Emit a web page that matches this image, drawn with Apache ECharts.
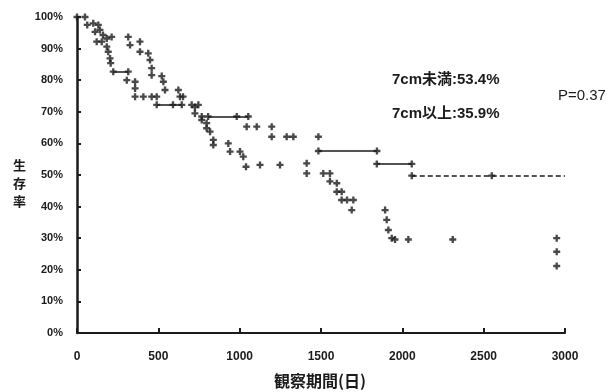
<!DOCTYPE html>
<html><head><meta charset="utf-8">
<script src="https://cdn.jsdelivr.net/npm/echarts@6/dist/echarts.min.js"></script>
<style>html,body{margin:0;padding:0;background:#fff}#c{width:616px;height:392px}</style>
</head><body><div id="c"></div>
<script>
// Tick labels
const xTicks = [0, 500, 1000, 1500, 2000, 2500, 3000];
const yTicks = [0, 10, 20, 30, 40, 50, 60, 70, 80, 90, 100];
// Group 1: 7cm未満 (days, survival %)
const groupSmallPoints = [
  [0,100],[49,100],[63,97.5],[100,98],[131,97.5],[111,95.3],[141,95.9],[160,94.3],
  [121,92.2],[152,92.2],[183,93.2],[213,93.7],[183,90.6],[192,89],[203,86.9],[207,85.4],
  [223,82.7],[315,82.7],[306,80],[357,79.5],[357,77.4],[357,74.8],[408,74.8],[459,74.8],
  [490,74.8],[490,72.2],[590,72.2],[644,72.2],[705,72.2],[746,72.2],[725,69.5],[767,68.5],
  [806,68.5],[982,68.5],[1053,68.5],[1043,65.3],[1105,65.3],[1197,65.3],[1197,62.1],
  [1289,62.1],[1330,62.1],[1484,62.1],[1484,57.6],[1844,57.6],[1843,53.5],[2058,53.5],
  [2058,49.8],[2550,49.8]
];
// horizontal segments of group 1: [fromDay, toDay, survival%]
const groupSmallSegments = [
  [223,315,82.7],[490,644,72.2],[806,1053,68.5],[1484,1844,57.6],[1843,2058,53.5]
];
const groupSmallDashed = [[2058,3000,49.8]];
// Group 2: 7cm以上
const groupLargePoints = [
  [315,93.7],[326,91.1],[387,92.2],[387,89],[438,88.5],[449,86.4],[459,83.8],[459,81.6],
  [521,81.3],[531,79.5],[541,76.9],[623,76.9],[633,74.8],[652,74.8],[725,71.5],[767,67.4],
  [797,66.4],[797,64.8],[818,63.7],[838,61.1],[838,59.5],[930,60],[941,57.4],[1002,57.4],
  [1022,55.8],[1039,52.6],[1125,53.2],[1248,53.2],[1412,53.7],[1412,50.5],[1514,50.5],
  [1555,50.5],[1555,48],[1597,47.4],[1597,44.7],[1627,44.7],[1627,42.1],[1660,42.1],
  [1699,42.1],[1689,38.9],[1894,38.9],[1904,35.8],[1914,32.6],[1935,30],[1955,29.6],
  [2037,29.6],[2310,29.6],[2949,30],[2949,25.7],[2949,21.2]
];
const annotations = ['7cm未満:53.4%', '7cm以上:35.9%', 'P=0.37'];
const xName = '観察期間(日)';
const yName = '生存率';

const ink = '#1c1a1a';
const plus = 'path://M2,0H4V2H6V4H4V6H2V4H0V2H2Z';
const font = '"Liberation Sans Narrow","Liberation Sans",sans-serif';
const segs = s => s.map(([a,b,y]) => ({coords: [[a,y],[b,y]]}));

const chart = echarts.init(document.getElementById('c'), null, {renderer: 'canvas'});
chart.setOption({
  animation: false,
  backgroundColor: '#fff',
  grid: {left: 77, right: 51, top: 17, bottom: 59},
  xAxis: {
    type: 'value', min: xTicks[0], max: xTicks[xTicks.length-1], interval: 500,
    axisLine: {lineStyle: {color: ink, width: 2}},
    axisTick: {inside: true, length: 5, lineStyle: {color: ink, width: 2}},
    splitLine: {show: false},
    axisLabel: {color: ink, fontFamily: font, fontWeight: 'bold', fontSize: 12, margin: 18,
      formatter: v => String(v)}
  },
  yAxis: {
    type: 'value', min: yTicks[0], max: yTicks[yTicks.length-1], interval: 10,
    axisLine: {show: true, lineStyle: {color: ink, width: 2.5}},
    axisTick: {show: true, inside: true, length: 4, lineStyle: {color: ink, width: 2}},
    splitLine: {show: false},
    axisLabel: {color: ink, fontFamily: font, fontWeight: 'bold', fontSize: 11, margin: 14, formatter: '{value}%'}
  },
  graphic: [
    {type: 'text', left: 13, top: 156, style: {text: yName.split('').join('\n'), font: 'bold 13px "Noto Sans CJK JP"', fill: ink, lineHeight: 18}},
    {type: 'text', left: 274, top: 373, style: {text: xName, font: 'bold 16px "Noto Sans CJK JP"', fill: ink}},
    {type: 'text', left: 392, top: 72, style: {text: annotations[0], font: 'bold 15px "Liberation Sans","Noto Sans CJK JP"', fill: ink}},
    {type: 'text', left: 392, top: 106, style: {text: annotations[1], font: 'bold 15px "Liberation Sans","Noto Sans CJK JP"', fill: ink}},
    {type: 'text', left: 558, top: 88, style: {text: annotations[2], font: '15px "Liberation Sans"', fill: ink}}
  ],
  series: [
    {type: 'lines', coordinateSystem: 'cartesian2d', polyline: false, silent: true,
     lineStyle: {color: ink, width: 1.5, opacity: 1}, data: segs(groupSmallSegments)},
    {type: 'lines', coordinateSystem: 'cartesian2d', polyline: false, silent: true,
     lineStyle: {color: ink, width: 1.5, opacity: 1, type: [5, 3]}, data: segs(groupSmallDashed)},
    {type: 'scatter', symbol: plus, symbolSize: 7, itemStyle: {color: ink}, data: groupSmallPoints},
    {type: 'scatter', symbol: plus, symbolSize: 7, itemStyle: {color: ink}, data: groupLargePoints}
  ]
});
</script></body></html>
